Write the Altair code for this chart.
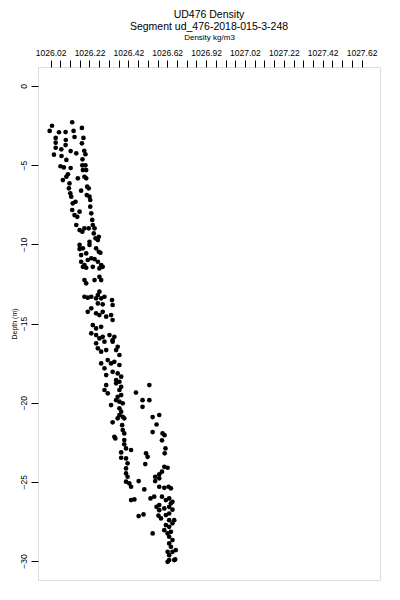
import altair as alt
import pandas as pd

title_lines = ["UD476 Density", "Segment ud_476-2018-015-3-248"]
x_title = "Density kg/m3"
y_title = "Depth (m)"

x_label_values = [1026.02, 1026.22, 1026.42, 1026.62, 1026.82, 1027.02, 1027.22, 1027.42, 1027.62]
x_label_texts = ["1026.02", "1026.22", "1026.42", "1026.62", "1026.92", "1027.02", "1027.22", "1027.42", "1027.62"]
x_tick_values = [round(1026.02 + 0.05 * i, 2) for i in range(33)]
y_tick_values = [0, -5, -10, -15, -20, -25, -30]

density = [
    1026.027, 1026.131, 1026.181, 1026.015, 1026.063, 1026.097, 1026.138, 1026.046, 1026.098, 1026.143,
    1026.189, 1026.046, 1026.097, 1026.181, 1026.046, 1026.075, 1026.123, 1026.152, 1026.193, 1026.037,
    1026.076, 1026.101, 1026.199, 1026.071, 1026.088, 1026.123, 1026.184, 1026.183, 1026.199, 1026.186,
    1026.203, 1026.083, 1026.101, 1026.109, 1026.160, 1026.194, 1026.203, 1026.117, 1026.114, 1026.121,
    1026.126, 1026.177, 1026.208, 1026.216, 1026.206, 1026.220, 1026.224, 1026.134, 1026.148, 1026.131,
    1026.143, 1026.157, 1026.169, 1026.224, 1026.229, 1026.234, 1026.152, 1026.169, 1026.183, 1026.194,
    1026.216, 1026.237, 1026.246, 1026.242, 1026.251, 1026.268, 1026.169, 1026.186, 1026.169, 1026.220,
    1026.254, 1026.268, 1026.276, 1026.203, 1026.177, 1026.229, 1026.263, 1026.220,
    1026.177, 1026.194, 1026.211, 1026.246, 1026.263, 1026.280,
    1026.186, 1026.203, 1026.237, 1026.271, 1026.288, 1026.194, 1026.203, 1026.246, 1026.271, 1026.280,
    1026.194, 1026.211, 1026.229, 1026.254, 1026.263, 1026.271, 1026.280, 1026.297, 1026.336, 1026.263,
    1026.288, 1026.339, 1026.211, 1026.229, 1026.254, 1026.271, 1026.288, 1026.306, 1026.331, 1026.339,
    1026.237, 1026.254, 1026.280, 1026.229, 1026.254, 1026.271, 1026.288, 1026.323, 1026.339, 1026.348,
    1026.254,
    1026.297, 1026.339, 1026.365, 1026.263, 1026.280, 1026.306, 1026.357, 1026.374, 1026.280, 1026.314,
    1026.331, 1026.348, 1026.374, 1026.297, 1026.339, 1026.306, 1026.365, 1026.383, 1026.357, 1026.374,
    1026.357, 1026.383, 1026.306, 1026.297, 1026.314, 1026.374, 1026.383, 1026.365, 1026.357, 1026.374,
    1026.391, 1026.331, 1026.374, 1026.383, 1026.374, 1026.391, 1026.365,
    1026.528, 1026.459, 1026.528, 1026.493, 1026.493, 1026.545, 1026.579,
    1026.399, 1026.339, 1026.388, 1026.391, 1026.399, 1026.353, 1026.399, 1026.399, 1026.408, 1026.434,
    1026.383, 1026.383, 1026.408, 1026.416, 1026.408, 1026.408, 1026.416, 1026.408, 1026.425, 1026.434,
    1026.473, 1026.502, 1026.348,
    1026.565, 1026.545, 1026.596, 1026.606, 1026.593, 1026.611, 1026.607, 1026.511, 1026.519, 1026.507,
    1026.605, 1026.622, 1026.593, 1026.579, 1026.558, 1026.558, 1026.579, 1026.579, 1026.605, 1026.627,
    1026.639,
    1026.434, 1026.451, 1026.473, 1026.498, 1026.534, 1026.553, 1026.593, 1026.613, 1026.630, 1026.647,
    1026.579, 1026.565, 1026.605, 1026.630, 1026.639, 1026.579, 1026.647, 1026.575, 1026.588, 1026.613,
    1026.630, 1026.630, 1026.656, 1026.613, 1026.630, 1026.647, 1026.545, 1026.605, 1026.622, 1026.639,
    1026.630, 1026.647, 1026.630, 1026.639, 1026.622, 1026.647, 1026.664, 1026.630, 1026.630, 1026.656,
    1026.622, 1026.661,
]

depth = [
    -2.51, -2.29, -2.65, -2.84, -2.92, -2.91, -2.84, -3.28, -3.41, -3.22,
    -3.28, -3.58, -3.73, -3.62, -3.90, -4.00, -4.11, -4.25, -4.09, -4.34,
    -4.42, -4.67, -4.31, -5.07, -5.14, -5.18, -4.63, -5.01, -5.01, -5.31,
    -5.31, -5.94, -5.73, -5.58, -5.83, -5.73, -5.83, -6.15, -6.46, -6.78,
    -6.99, -6.61, -6.36, -6.46, -6.89, -6.99, -7.20, -7.41, -7.31, -7.83,
    -8.15, -8.26, -7.94, -7.62, -8.04, -8.46, -8.78, -9.10, -9.20, -8.99,
    -8.99, -8.78, -8.99, -9.31, -9.62, -9.52, -10.04, -10.25, -10.30, -9.84,
    -10.25, -10.47, -10.53, -10.57, -10.68, -10.88, -9.73, -10.04,
    -11.10, -11.31, -10.99, -10.93, -11.10, -11.31,
    -11.42, -11.48, -11.42, -11.52, -11.42, -12.26, -12.46, -12.26, -12.05, -12.26,
    -13.31, -13.37, -13.31, -13.41, -13.20, -12.99, -13.41, -13.31, -13.52, -13.73,
    -13.79, -13.83, -14.26, -14.04, -14.36, -14.47, -14.26, -14.57, -14.47, -14.78,
    -15.10, -15.31, -15.21, -15.62, -15.73, -15.94, -15.84, -15.73, -16.05, -15.84,
    -16.25,
    -16.15, -16.15, -16.47, -16.57, -16.78, -16.68, -16.68, -16.99, -17.52, -17.31,
    -17.52, -17.42, -17.62, -17.83, -18.05, -18.26, -18.15, -18.36, -18.57, -18.68,
    -18.78, -19.00, -18.89, -19.20, -19.41, -19.20, -19.52, -19.63, -19.84, -19.94,
    -20.04, -20.15, -20.36, -20.57, -20.78, -20.89, -20.99,
    -18.89, -19.36, -19.84, -19.84, -20.26, -20.91, -20.78,
    -20.99, -21.24, -21.42, -21.73, -21.94, -22.26, -22.36, -22.63, -22.89, -22.99,
    -23.14, -23.48, -23.52, -23.83, -24.15, -24.47, -24.68, -24.99, -25.10, -25.31,
    -24.95, -25.48, -22.16,
    -21.38, -21.86, -21.94, -22.05, -22.38, -22.89, -23.20, -23.20, -23.42, -23.88,
    -24.05, -24.11, -24.36, -24.53, -24.68, -24.95, -24.78, -25.31, -25.38, -25.31,
    -25.41,
    -26.15, -26.11, -27.16, -27.06, -26.05, -25.94, -25.94, -26.15, -26.05, -26.26,
    -26.47, -26.58, -26.68, -26.58, -26.36, -26.79, -26.76, -27.13, -27.31, -27.10,
    -27.00, -27.42, -27.42, -27.73, -27.84, -27.62, -28.26, -28.05, -28.26, -28.16,
    -28.47, -28.68, -28.89, -29.10, -29.42, -29.42, -29.31, -29.63, -29.94, -29.94,
    -30.05, -29.90,
]

df = pd.DataFrame({"density": density, "depth": depth})

label_expr = "''"
for v, t in reversed(list(zip(x_label_values, x_label_texts))):
    label_expr = f"abs(datum.value - {v}) < 0.001 ? '{t}' : " + label_expr

FONT = "Liberation Sans"

chart = (
    alt.Chart(df)
    .mark_circle(color="black", size=22, opacity=1)
    .encode(
        x=alt.X(
            "density:Q",
            scale=alt.Scale(domain=[1025.955, 1027.715], nice=False, zero=False),
            axis=alt.Axis(
                orient="top",
                title=x_title,
                values=x_tick_values,
                labelExpr=label_expr,
                grid=False,
                domain=False,
                tickSize=7,
                tickColor="black",
                labelFont=FONT,
                labelFontSize=8.5,
                labelColor="black",
                labelPadding=3,
                labelOverlap=False,
                labelFlush=False,
                titleFont=FONT,
                titleFontSize=8,
                titleFontWeight="normal",
                titleColor="black",
                titlePadding=7,
            ),
        ),
        y=alt.Y(
            "depth:Q",
            scale=alt.Scale(domain=[-31.2, 1.2], nice=False, zero=False),
            axis=alt.Axis(
                orient="left",
                title=y_title,
                values=y_tick_values,
                grid=False,
                domain=False,
                tickSize=7,
                tickColor="black",
                labelAngle=270,
                labelAlign="center",
                labelBaseline="bottom",
                labelFont=FONT,
                labelFontSize=8.5,
                labelColor="black",
                labelPadding=3,
                labelOverlap=False,
                labelFlush=False,
                titleFont=FONT,
                titleFontSize=7,
                titleFontWeight="normal",
                titleColor="black",
                titlePadding=2,
            ),
        ),
    )
    .properties(
        width=342,
        height=513,
        title=alt.TitleParams(
            text=title_lines,
            font=FONT,
            fontSize=10.5,
            fontWeight="normal",
            color="black",
            anchor="middle",
            lineHeight=12,
            offset=1,
        ),
        autosize=alt.AutoSizeParams(type="none"),
        padding={"left": 30, "top": 59, "right": 10, "bottom": 10},
    )
    .configure_view(stroke="black", strokeWidth=1)
    .configure(background="white")
)

chart.save("out.html", embed_options={"renderer": "svg", "actions": False})
